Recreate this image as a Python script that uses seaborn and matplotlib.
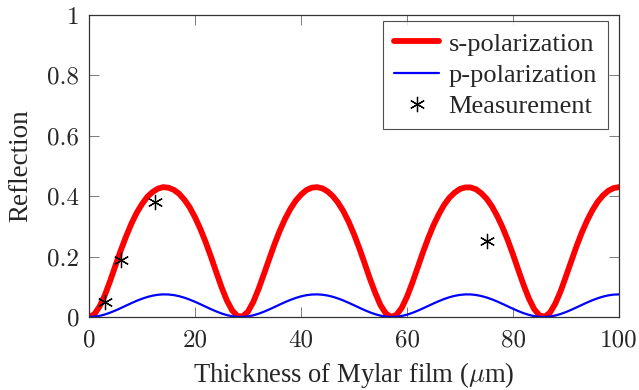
import numpy as np
import pandas as pd
import matplotlib
matplotlib.use("Agg")
import matplotlib.pyplot as plt
import seaborn as sns

# Thickness of Mylar film (um), sampled every 1 um
thickness = list(range(0, 101))

s_pol = [0.000, 0.009, 0.035, 0.073, 0.120, 0.171, 0.221, 0.267, 0.309, 0.345,
         0.374, 0.398, 0.414, 0.425, 0.430, 0.428, 0.421, 0.408, 0.388, 0.363,
         0.330, 0.292, 0.248, 0.200, 0.149, 0.099, 0.055, 0.022, 0.003, 0.002,
         0.018, 0.050, 0.093, 0.142, 0.192, 0.241, 0.286, 0.325, 0.358, 0.385,
         0.405, 0.420, 0.428, 0.430, 0.426, 0.416, 0.400, 0.378, 0.350, 0.315,
         0.274, 0.228, 0.178, 0.127, 0.080, 0.039, 0.012, 0.000, 0.007, 0.030,
         0.067, 0.113, 0.163, 0.214, 0.261, 0.304, 0.340, 0.371, 0.395, 0.412,
         0.424, 0.429, 0.429, 0.423, 0.410, 0.392, 0.367, 0.335, 0.298, 0.255,
         0.207, 0.156, 0.106, 0.061, 0.026, 0.005, 0.001, 0.015, 0.045, 0.086,
         0.135, 0.185, 0.235, 0.280, 0.320, 0.354, 0.382, 0.403, 0.418, 0.427,
         0.430]

p_pol = [0.0000, 0.0010, 0.0038, 0.0084, 0.0145, 0.0216, 0.0295, 0.0378, 0.0459, 0.0536,
         0.0604, 0.0662, 0.0706, 0.0736, 0.0749, 0.0745, 0.0725, 0.0689, 0.0639, 0.0576,
         0.0503, 0.0424, 0.0342, 0.0261, 0.0185, 0.0117, 0.0063, 0.0024, 0.0003, 0.0002,
         0.0020, 0.0056, 0.0109, 0.0174, 0.0250, 0.0330, 0.0413, 0.0493, 0.0566, 0.0630,
         0.0683, 0.0721, 0.0743, 0.0749, 0.0738, 0.0711, 0.0669, 0.0613, 0.0546, 0.0470,
         0.0389, 0.0307, 0.0227, 0.0154, 0.0092, 0.0044, 0.0013, 0.0000, 0.0007, 0.0033,
         0.0077, 0.0135, 0.0206, 0.0284, 0.0366, 0.0447, 0.0525, 0.0595, 0.0654, 0.0701,
         0.0732, 0.0748, 0.0747, 0.0729, 0.0695, 0.0647, 0.0586, 0.0514, 0.0436, 0.0354,
         0.0272, 0.0195, 0.0126, 0.0070, 0.0028, 0.0005, 0.0001, 0.0016, 0.0050, 0.0100,
         0.0164, 0.0238, 0.0319, 0.0401, 0.0481, 0.0556, 0.0622, 0.0676, 0.0716, 0.0741,
         0.0749]

meas_x = [3.0, 6.0, 12.5, 75.0]
meas_y = [0.05, 0.19, 0.38, 0.25]

x_ticks = [0, 20, 40, 60, 80, 100]
y_ticks = [0, 0.2, 0.4, 0.6, 0.8, 1]
y_tick_labels = ["0", "0.2", "0.4", "0.6", "0.8", "1"]

sns.set_style("white")
plt.rcParams["font.family"] = ["Liberation Serif", "DejaVu Serif"]
plt.rcParams["mathtext.fontset"] = "cm"

fig = plt.figure(figsize=(6.39, 3.90), dpi=100)
ax = fig.add_axes([0.1393, 0.1872, 0.8294, 0.7744])

df = pd.DataFrame({"x": thickness, "s": s_pol, "p": p_pol})

sns.lineplot(data=df, x="x", y="s", ax=ax, color="#ff0000", linewidth=4.2,
             label="s-polarization", solid_capstyle="round")
sns.lineplot(data=df, x="x", y="p", ax=ax, color="#0000ff", linewidth=1.6,
             label="p-polarization")
ax.plot(meas_x, meas_y, linestyle="none", marker=(6, 2, 0), markersize=11,
        markeredgewidth=0.9, color="black", label="Measurement")

ax.set_xlim(0, 100)
ax.set_ylim(0, 1)
ax.set_xticks(x_ticks)
ax.set_xticklabels([str(t) for t in x_ticks], fontfamily="cmr10", fontsize=18)
ax.set_yticks(y_ticks)
ax.set_yticklabels(y_tick_labels, fontfamily="cmr10", fontsize=18)
ax.tick_params(axis="x", pad=9)
ax.tick_params(axis="y", pad=7)
ax.tick_params(direction="in", length=7, width=0.6, color="#666666",
               top=True, right=True, bottom=True, left=True)
for sp in ax.spines.values():
    sp.set_color("#333333")
    sp.set_linewidth(0.9)

ax.set_xlabel(r"Thickness of Mylar film ($\mu$m)", fontsize=19.2)
ax.xaxis.label.set_va("baseline")
ax.xaxis.set_label_coords(0.5, -0.214)
ax.set_ylabel("Reflection", fontsize=19.5)
ax.yaxis.label.set_va("center")
ax.yaxis.set_label_coords(-0.129, 0.5)

leg = ax.legend(loc="upper right", bbox_to_anchor=(0.979, 0.980), fontsize=19,
                frameon=True, fancybox=False, edgecolor="#222222",
                handlelength=1.7, handletextpad=0.35, borderpad=0.42,
                labelspacing=0.3, borderaxespad=0.0)
leg.get_frame().set_linewidth(0.8)

fig.savefig("out.png", dpi=100)
